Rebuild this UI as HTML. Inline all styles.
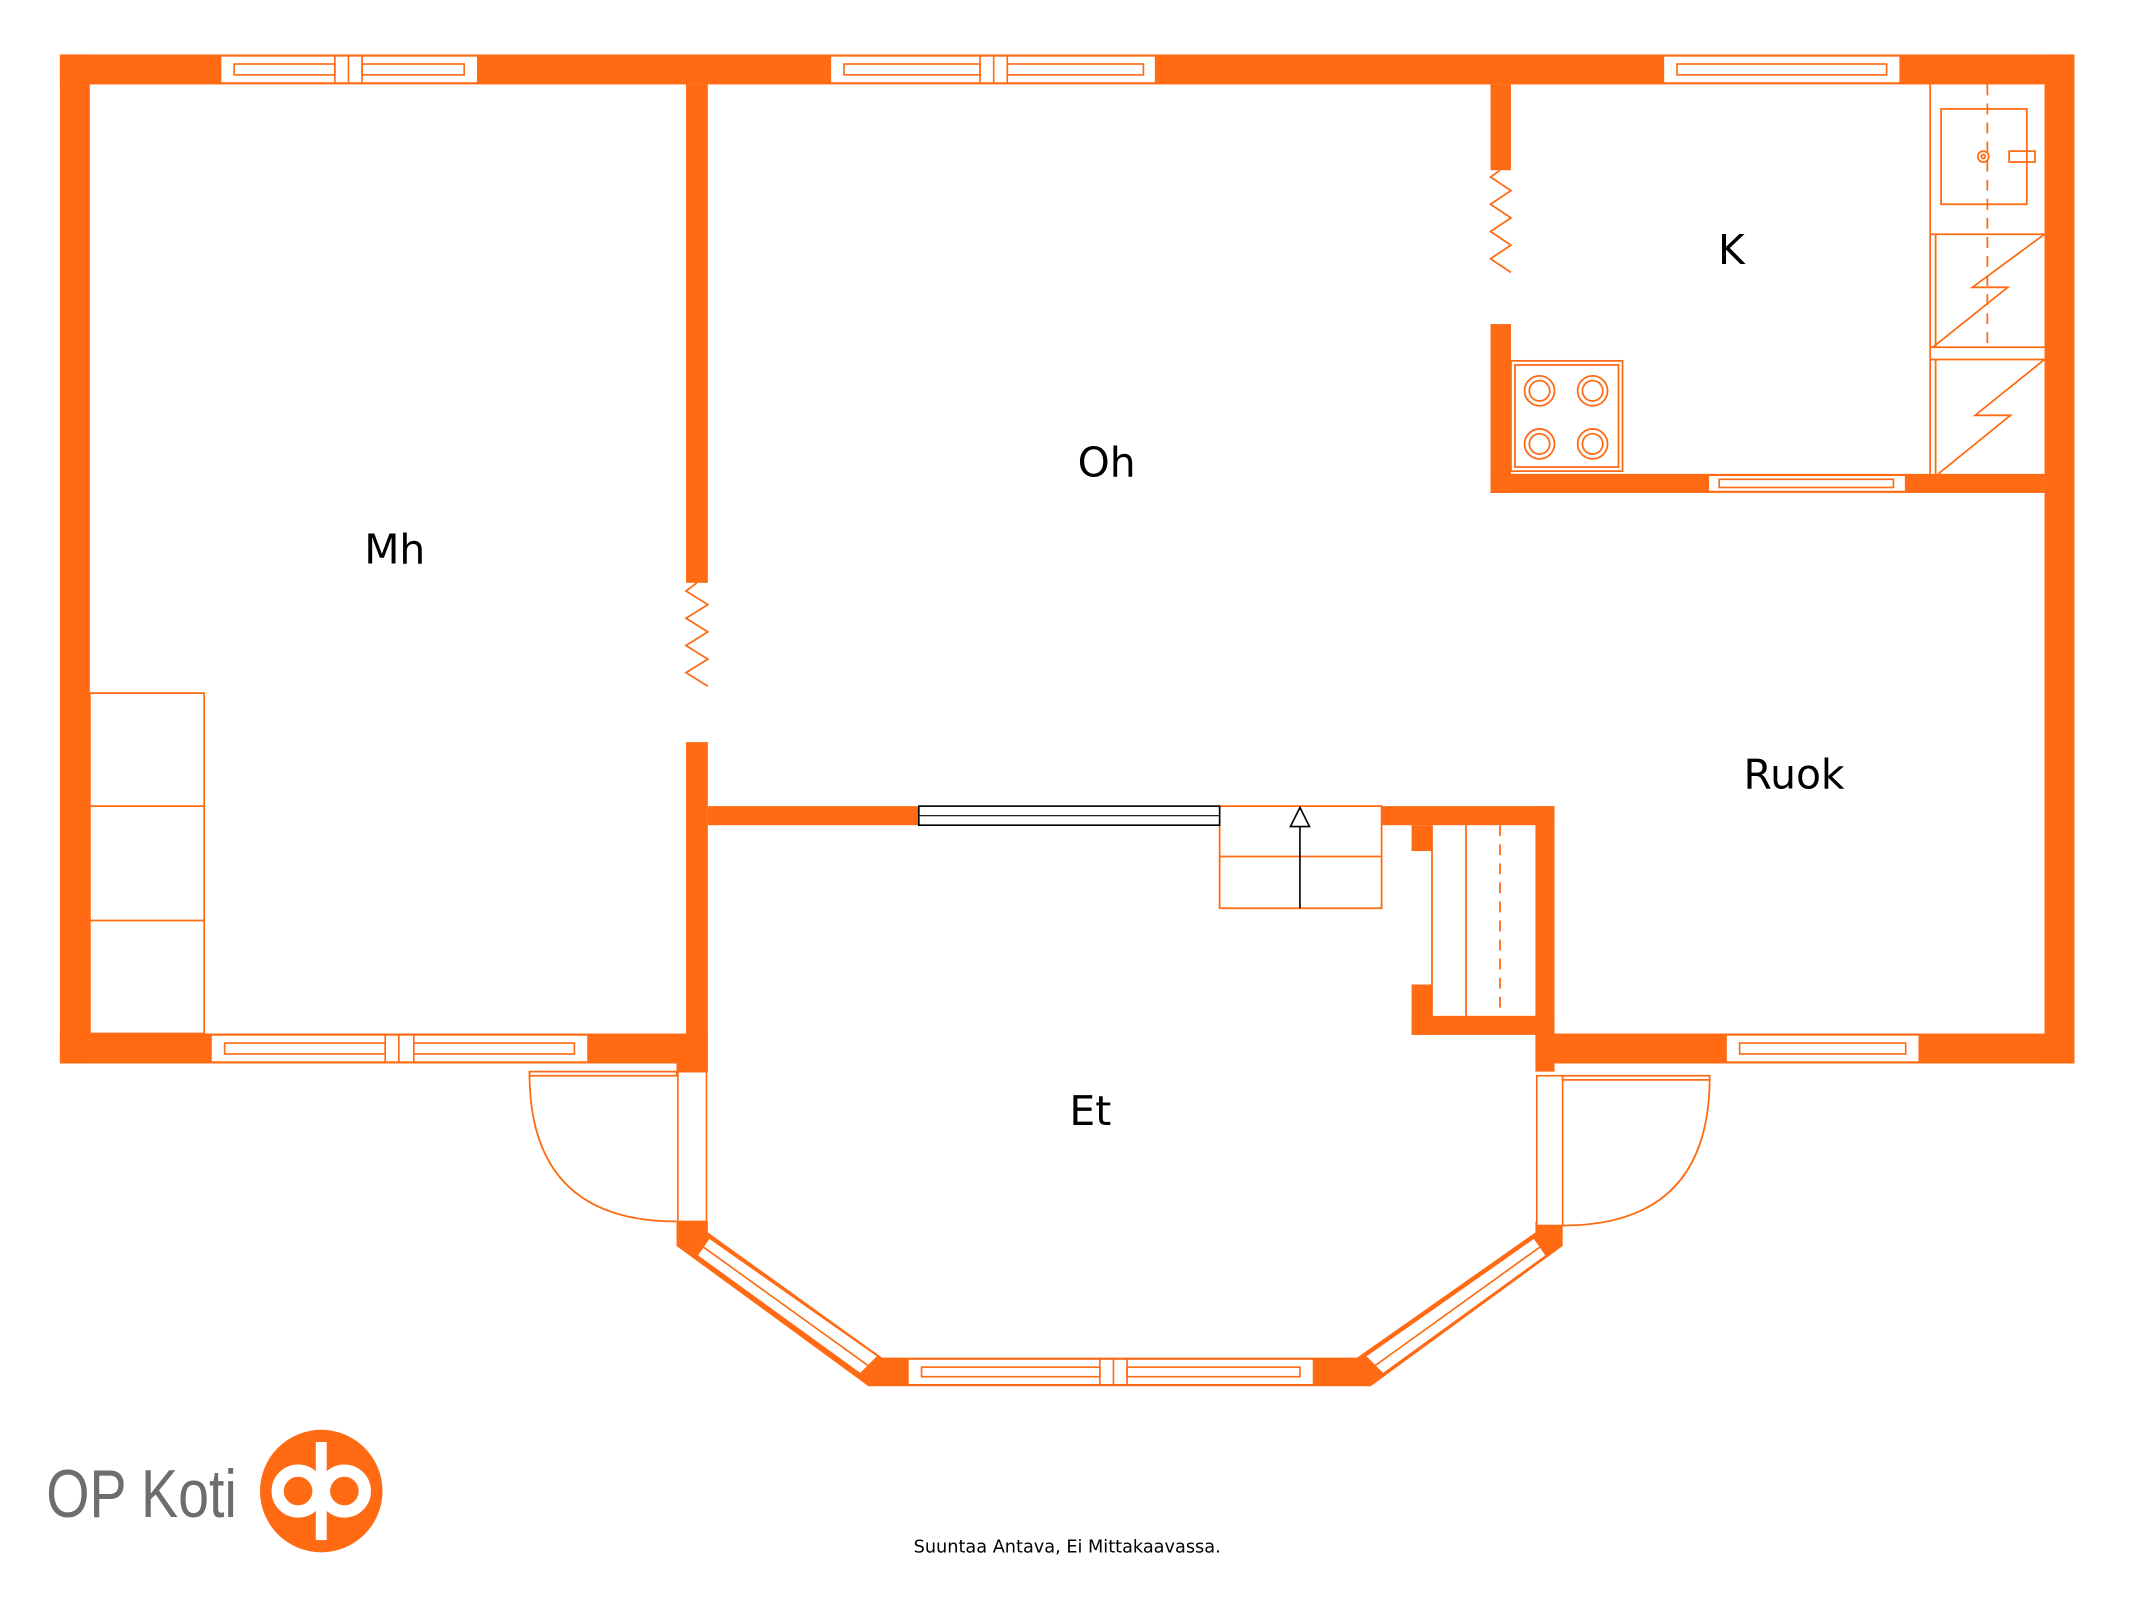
<!DOCTYPE html>
<html><head><meta charset="utf-8"><style>
html,body{margin:0;padding:0;background:#fff;}
svg{display:block;}
</style></head><body>
<svg width="2133" height="1600" viewBox="0 0 1567 1175" preserveAspectRatio="none" xmlns="http://www.w3.org/2000/svg">
<g fill="#FF6A13" stroke="none">
<rect x="44" y="40" width="1480" height="22"/>
<rect x="44" y="40" width="22" height="741"/>
<rect x="1502" y="40" width="22" height="741"/>
<rect x="44" y="759" width="476" height="22"/>
<rect x="1128" y="759" width="396" height="22"/>
<rect x="504" y="62" width="16" height="366"/>
<rect x="504" y="545" width="16" height="242"/>
<rect x="520" y="592" width="155" height="14"/>
<rect x="1015" y="592" width="127" height="14"/>
<rect x="1128" y="592" width="14" height="195"/>
<rect x="1037" y="606" width="15" height="19"/>
<rect x="1037" y="723" width="15" height="37"/>
<rect x="1037" y="746" width="105" height="14"/>
<rect x="1095" y="62" width="15" height="63"/>
<rect x="1095" y="238" width="15" height="124"/>
<rect x="1095" y="348" width="407" height="14"/>
<path d="M497,781 L520,781 L520,787 L497,787 Z"/>
<path d="M497,897 L520,897 L520,905 L648,997 L997,997 L1128,905 L1128,897 L1148,897 L1148,915 L1007,1018 L638,1018 L497,915 Z"/>
</g>
<g fill="#fff" stroke="#FF6A13" stroke-width="1.2">
<rect x="162" y="41" width="189" height="20"/>
<rect x="172" y="47" width="74" height="8"/><rect x="266" y="47" width="75" height="8"/>
<line x1="246" y1="41" x2="246" y2="61"/><line x1="256" y1="41" x2="256" y2="61"/><line x1="266" y1="41" x2="266" y2="61"/>
<rect x="610" y="41" width="239" height="20"/>
<rect x="620" y="47" width="100" height="8"/><rect x="740" y="47" width="100" height="8"/>
<line x1="720" y1="41" x2="720" y2="61"/><line x1="730" y1="41" x2="730" y2="61"/><line x1="740" y1="41" x2="740" y2="61"/>
<rect x="1222" y="41" width="174" height="20"/>
<rect x="1232" y="47" width="154" height="8"/>
<rect x="155" y="760" width="277" height="20"/>
<rect x="165" y="766" width="118" height="8"/><rect x="304" y="766" width="118" height="8"/>
<line x1="283" y1="760" x2="283" y2="780"/><line x1="293" y1="760" x2="293" y2="780"/><line x1="304" y1="760" x2="304" y2="780"/>
<rect x="1268" y="760" width="142" height="20"/>
<rect x="1278" y="766" width="122" height="8"/>
<rect x="1255" y="349" width="145" height="12"/>
<rect x="1263" y="352" width="128" height="6"/>
<rect x="667" y="998" width="298" height="19"/>
<rect x="677" y="1004" width="131" height="7"/><rect x="828" y="1004" width="127" height="7"/>
<line x1="808" y1="998" x2="808" y2="1017"/><line x1="818" y1="998" x2="818" y2="1017"/><line x1="828" y1="998" x2="828" y2="1017"/>
<polygon points="521,909 645,996 632,1009 512,922"/>
<line x1="517" y1="916" x2="638" y2="1003"/>
<polygon points="1127,909 1003,996 1016,1009 1136,922"/>
<line x1="1131" y1="916" x2="1010" y2="1003"/>
<rect x="498" y="787" width="21" height="110"/>
<rect x="1129" y="790" width="19" height="110"/>
</g>
<g fill="none" stroke="#FF6A13" stroke-width="1.3">
<rect x="66" y="509" width="84" height="250"/>
<line x1="66" y1="592" x2="150" y2="592"/><line x1="66" y1="676" x2="150" y2="676"/>
<polyline points="512,428 504,434 520,444 504,454 520,464 504,474 520,484 504,494 520,504"/>
<polyline points="1102,125 1095,130 1110,140 1095,150 1110,160 1095,170 1110,180 1095,190 1110,200"/>
<path d="M389,787 L497,787 L497,790 L389,790 Z"/>
<path d="M389,790 Q390,897 497,897"/>
<path d="M1148,790 L1256,790 L1256,793 L1148,793 Z"/>
<path d="M1256,793 Q1255,900 1148,900"/>
<rect x="896" y="592" width="119" height="75"/>
<line x1="896" y1="629" x2="1015" y2="629"/>
<line x1="1052" y1="606" x2="1052" y2="746"/>
<line x1="1077" y1="606" x2="1077" y2="746"/>
<line x1="1102" y1="606" x2="1102" y2="746" stroke-dasharray="8,6"/>
<line x1="1418" y1="62" x2="1418" y2="348"/>
<rect x="1426" y="80" width="63" height="70"/>
<circle cx="1457" cy="115" r="4"/><circle cx="1457" cy="115" r="1.5"/>
<rect x="1476" y="111" width="19" height="8"/>
<line x1="1460" y1="62" x2="1460" y2="258" stroke-dasharray="8,6"/>
<line x1="1418" y1="172" x2="1502" y2="172"/>
<line x1="1418" y1="255" x2="1502" y2="255"/><line x1="1418" y1="264" x2="1502" y2="264"/>
<polyline points="1420,255 1475,211 1449,211 1502,172"/>
<polyline points="1424,348 1477,305 1451,305 1502,264"/>
<line x1="1422" y1="172" x2="1422" y2="255"/><line x1="1422" y1="264" x2="1422" y2="348"/>
<rect x="1110" y="265" width="82" height="81"/>
<rect x="1113" y="268" width="76" height="75"/>
<circle cx="1131" cy="287" r="11"/><circle cx="1131" cy="287" r="7.5"/>
<circle cx="1170" cy="287" r="11"/><circle cx="1170" cy="287" r="7.5"/>
<circle cx="1131" cy="326" r="11"/><circle cx="1131" cy="326" r="7.5"/>
<circle cx="1170" cy="326" r="11"/><circle cx="1170" cy="326" r="7.5"/>
</g>
<rect x="675" y="592" width="221" height="14" fill="#fff" stroke="#000" stroke-width="1.2"/>
<line x1="675" y1="599" x2="896" y2="599" stroke="#000" stroke-width="0.8"/>
<line x1="955" y1="667" x2="955" y2="594" stroke="#000" stroke-width="1.2"/>
<polygon points="955,593 948,607 962,607" fill="#fff" stroke="#000" stroke-width="1.2"/>
<g font-family="'DejaVu Sans','Liberation Sans',sans-serif" font-size="30" fill="#000" text-anchor="middle">
<text x="290" y="414">Mh</text>
<text x="813" y="350">Oh</text>
<text x="1272" y="194">K</text>
<text x="1318" y="579">Ruok</text>
<text x="801" y="826">Et</text>
</g>
<text x="784" y="1140" font-family="'DejaVu Sans','Liberation Sans',sans-serif" font-size="13" text-anchor="middle" fill="#000">Suuntaa Antava, Ei Mittakaavassa.</text>
<text x="34" y="1114" font-family="'Liberation Sans',sans-serif" font-size="50" fill="#6d6d6d" textLength="140" lengthAdjust="spacingAndGlyphs">OP Koti</text>
<circle cx="236" cy="1095" r="45" fill="#FF6A13"/>
<g fill="none" stroke="#fff" stroke-width="9">
<circle cx="219" cy="1095" r="15"/>
<circle cx="253" cy="1095" r="15"/>
</g>
<rect x="232" y="1059" width="8" height="72" fill="#fff"/>
</svg>
</body></html>
